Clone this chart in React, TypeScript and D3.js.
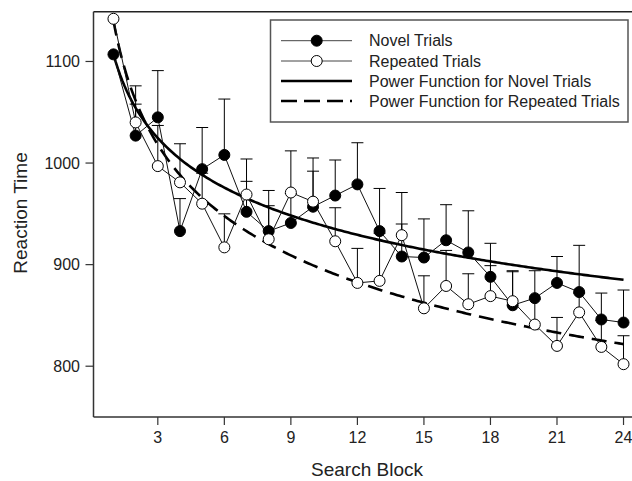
import React from "react";
import * as d3 from "d3";

const blocks = [1, 2, 3, 4, 5, 6, 7, 8, 9, 10, 11, 12, 13, 14, 15, 16, 17, 18, 19, 20, 21, 22, 23, 24];
const novelRT = [1107, 1027, 1045, 933, 994, 1008, 952, 933, 941, 957, 968, 979, 933, 908, 907, 924, 912, 888, 860, 867, 882, 873, 846, 843];
const novelUpper = [null, 1058, 1091, 965, 1035, 1063, 982, 973, 970, 1005, 1003, 1020, 975, 940, 945, 959, 953, 921, 894, 894, 908, 919, 872, 875];
const repeatedRT = [1142, 1040, 997, 981, 960, 917, 969, 925, 971, 962, 923, 882, 884, 929, 857, 879, 861, 869, 864, 841, 820, 853, 819, 802];
const repeatedUpper = [null, 1076, 1037, 1019, 990, 950, 1004, 958, 1012, 992, 956, 916, 931, 971, 889, 914, 891, 899, 893, 866, 848, 872, 845, 830];
// power function fits: RT = a * block^b
const novelFit = [1107, -0.0704];
const repeatedFit = [1140, -0.103];

const xTicks = [3, 6, 9, 12, 15, 18, 21, 24];
const yTicks = [800, 900, 1000, 1100];
const legendLabels = [
  "Novel Trials",
  "Repeated Trials",
  "Power Function for Novel Trials",
  "Power Function for Repeated Trials",
];

const W = 632;
const H = 481;
const FONT = "'Liberation Sans', Arial, sans-serif";

export default function App() {
  const x = d3.scaleLinear().domain([0.1, 24.45]).range([93.5, 633.5]);
  const y = d3.scaleLinear().domain([750, 1149]).range([417, 11.7]);
  const [x0, x1] = x.range();
  const [yb, yt] = y.range();

  const line = d3
    .line<[number, number]>()
    .x((d) => x(d[0]))
    .y((d) => y(d[1]));

  const novelPts: [number, number][] = blocks.map((b, i) => [b, novelRT[i]]);
  const repPts: [number, number][] = blocks.map((b, i) => [b, repeatedRT[i]]);
  const samples = d3.range(1, 24.001, 0.1);
  const fitPts = (f: number[]) => samples.map((s) => [s, f[0] * Math.pow(s, f[1])] as [number, number]);

  const r = 5.5;
  const errBars = (vals: number[], ups: (number | null)[], key: string) =>
    blocks.map((b, i) => {
      const u = ups[i];
      if (u == null) return null;
      const cx = x(b);
      return (
        <g key={key + i} stroke="#000" strokeWidth={1}>
          <line x1={cx} x2={cx} y1={y(vals[i])} y2={y(u)} />
          <line x1={cx - 6} x2={cx + 6} y1={y(u)} y2={y(u)} />
        </g>
      );
    });

  const legX = 270.5;
  const legY = 20;
  const rows = [40.7, 61, 81, 101];

  return (
    <svg
      width={W}
      height={H}
      style={{ position: "absolute", left: 0, top: 0, background: "#fff" }}
      fontFamily={FONT}
    >
      <rect x={0} y={0} width={W} height={H} fill="#fff" />
      {/* frame */}
      <line x1={x0} x2={x1} y1={yt} y2={yt} stroke="#222" strokeWidth={1.5} />
      <line x1={x0} x2={x1} y1={yb} y2={yb} stroke="#333" strokeWidth={1.5} />
      <line x1={x0} x2={x0} y1={yt} y2={yb} stroke="#333" strokeWidth={1.5} />

      {/* y axis ticks */}
      {yTicks.map((t) => (
        <g key={"y" + t}>
          <line x1={x0 - 8} x2={x0} y1={y(t)} y2={y(t)} stroke="#333" strokeWidth={1.2} />
          <text x={80} y={y(t)} dy="0.36em" textAnchor="end" fontSize={16} fill="#222">
            {t}
          </text>
        </g>
      ))}
      {/* x axis ticks */}
      {xTicks.map((t) => (
        <g key={"x" + t}>
          <line x1={x(t)} x2={x(t)} y1={yb} y2={yb + 8} stroke="#333" strokeWidth={1.2} />
          <text x={x(t)} y={443} textAnchor="middle" fontSize={16} fill="#222">
            {t}
          </text>
        </g>
      ))}
      <text x={367} y={476} textAnchor="middle" fontSize={19} fill="#222">
        Search Block
      </text>
      <text
        transform={`translate(27,213) rotate(-90)`}
        textAnchor="middle"
        fontSize={19}
        fill="#222"
      >
        Reaction Time
      </text>

      {/* power functions */}
      <path d={line(fitPts(novelFit)) || ""} fill="none" stroke="#000" strokeWidth={2.6} />
      <path
        d={line(fitPts(repeatedFit)) || ""}
        fill="none"
        stroke="#000"
        strokeWidth={2.6}
        strokeDasharray="15,8"
      />

      {/* data lines */}
      <path d={line(novelPts) || ""} fill="none" stroke="#111" strokeWidth={1} />
      <path d={line(repPts) || ""} fill="none" stroke="#111" strokeWidth={1} />

      {errBars(novelRT, novelUpper, "ne")}
      {errBars(repeatedRT, repeatedUpper, "re")}

      {novelPts.map((p, i) => (
        <circle key={"n" + i} cx={x(p[0])} cy={y(p[1])} r={r} fill="#000" stroke="#000" strokeWidth={1} />
      ))}
      {repPts.map((p, i) => (
        <circle key={"o" + i} cx={x(p[0])} cy={y(p[1])} r={r} fill="#fff" stroke="#000" strokeWidth={1} />
      ))}

      {/* legend */}
      <rect x={legX} y={legY} width={628 - legX} height={122 - legY} fill="#fff" stroke="#555" strokeWidth={1.5} />
      {legendLabels.map((lab, i) => {
        const ry = rows[i];
        return (
          <g key={"l" + i}>
            <line
              x1={281}
              x2={352}
              y1={ry}
              y2={ry}
              stroke={i < 2 ? "#444" : "#000"}
              strokeWidth={i < 2 ? 1 : 2.6}
              strokeDasharray={i === 3 ? "16,7" : undefined}
            />
            {i < 2 && (
              <circle cx={316.7} cy={ry} r={r} fill={i === 0 ? "#000" : "#fff"} stroke="#000" strokeWidth={1} />
            )}
            <text x={369} y={ry} dy="0.36em" fontSize={16} fill="#222">
              {lab}
            </text>
          </g>
        );
      })}
    </svg>
  );
}
